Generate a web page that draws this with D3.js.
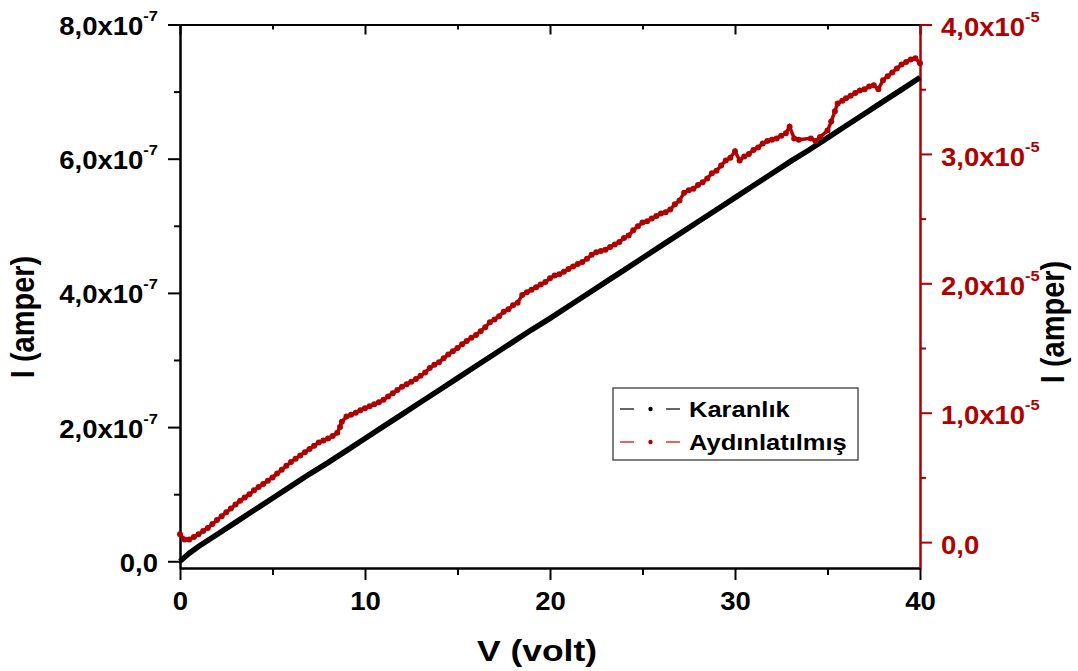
<!DOCTYPE html>
<html>
<head>
<meta charset="utf-8">
<script src="https://cdn.jsdelivr.net/npm/d3@7"></script>
<style>
  body { margin: 0; background: #fff; }
  text { font-family: "Liberation Sans", Arial, sans-serif; font-weight: bold; }
</style>
</head>
<body>
<div id="chart"></div>
<script>
// dark current, [V, I in 1e-7 A]
var darkData = [
  [0, 0.00], [0.25, 0.06], [0.5, 0.12], [1, 0.22], [2, 0.40], [3, 0.58], [4, 0.76],
  [5, 0.94], [6, 1.12], [7, 1.30], [8, 1.47], [9, 1.65], [10, 1.83], [11, 2.01],
  [12, 2.19], [13, 2.37], [14, 2.55], [15, 2.73], [16, 2.91], [17, 3.09], [18, 3.27],
  [19, 3.45], [20, 3.62], [21, 3.80], [22, 3.98], [23, 4.16], [24, 4.34], [25, 4.52],
  [26, 4.70], [27, 4.88], [28, 5.06], [29, 5.24], [30, 5.42], [31, 5.60], [32, 5.78],
  [33, 5.96], [34, 6.13], [35, 6.31], [36, 6.49], [37, 6.67], [38, 6.85], [39, 7.03],
  [40, 7.21]
];

// illuminated current, [V, I in 1e-5 A]
var lightData = [
  [0, 0.06], [0.25, 0.02], [0.5, 0.02], [0.75, 0.04], [1, 0.06], [1.25, 0.085], [1.5, 0.11],
  [1.75, 0.14], [2, 0.17], [2.25, 0.20], [2.5, 0.23], [2.75, 0.26], [3, 0.29], [3.25, 0.32],
  [3.5, 0.345], [3.75, 0.37], [4, 0.40], [4.25, 0.425], [4.5, 0.45], [4.75, 0.475], [5, 0.50],
  [5.25, 0.53], [5.5, 0.56], [5.75, 0.59], [6, 0.62], [6.25, 0.645], [6.5, 0.67], [6.75, 0.695],
  [7, 0.72], [7.25, 0.745], [7.5, 0.77], [7.75, 0.785], [8, 0.80], [8.25, 0.82], [8.5, 0.845],
  [8.65, 0.89], [8.75, 0.93], [9, 0.97], [9.25, 0.985], [9.5, 1.00], [9.75, 1.02], [10, 1.035],
  [10.25, 1.05], [10.5, 1.065], [10.75, 1.08], [11, 1.10], [11.25, 1.125], [11.5, 1.15],
  [11.75, 1.175], [12, 1.20], [12.25, 1.22], [12.5, 1.24], [12.75, 1.26], [13, 1.285],
  [13.25, 1.31], [13.5, 1.345], [13.75, 1.37], [14, 1.39], [14.25, 1.42], [14.5, 1.45],
  [14.75, 1.475], [15, 1.50], [15.25, 1.53], [15.5, 1.555], [15.75, 1.58], [16, 1.60],
  [16.25, 1.63], [16.5, 1.66], [16.75, 1.70], [17, 1.72], [17.25, 1.745], [17.5, 1.78],
  [17.75, 1.80], [18, 1.83], [18.25, 1.85], [18.5, 1.91], [18.75, 1.93], [19, 1.95],
  [19.25, 1.97], [19.5, 1.99], [19.75, 2.01], [20, 2.04], [20.25, 2.06], [20.5, 2.07],
  [20.75, 2.09], [21, 2.11], [21.25, 2.13], [21.5, 2.15], [21.75, 2.165], [22, 2.19],
  [22.25, 2.22], [22.5, 2.24], [22.75, 2.25], [23, 2.26], [23.25, 2.28], [23.5, 2.30],
  [23.75, 2.32], [24, 2.35], [24.25, 2.37], [24.5, 2.41], [24.75, 2.44], [25, 2.47],
  [25.25, 2.48], [25.5, 2.50], [25.75, 2.52], [26, 2.54], [26.25, 2.55], [26.5, 2.57],
  [26.75, 2.61], [27, 2.64], [27.25, 2.70], [27.5, 2.72], [27.75, 2.73], [28, 2.76],
  [28.25, 2.78], [28.5, 2.81], [28.75, 2.85], [29, 2.87], [29.25, 2.91], [29.5, 2.95],
  [29.75, 2.97], [30, 3.02], [30.25, 2.95], [30.5, 2.98], [30.75, 3.00], [31, 3.03],
  [31.25, 3.05], [31.5, 3.08], [31.75, 3.10], [32, 3.11], [32.25, 3.12], [32.5, 3.14],
  [32.75, 3.16], [32.95, 3.21], [33.2, 3.12], [33.45, 3.11], [34.1, 3.12], [34.35, 3.10],
  [34.6, 3.13], [35, 3.18], [35.2, 3.25], [35.4, 3.33], [35.55, 3.39], [35.8, 3.41],
  [36, 3.43], [36.25, 3.45], [36.5, 3.47], [36.75, 3.49], [37, 3.50], [37.25, 3.52],
  [37.5, 3.53], [37.75, 3.50], [38, 3.57], [38.25, 3.60], [38.5, 3.63], [38.75, 3.66],
  [39, 3.69], [39.25, 3.71], [39.5, 3.73], [39.75, 3.74], [40, 3.70]
];

// ticks and labels
var xMajor = [0, 10, 20, 30, 40];
var xMinor = [5, 15, 25, 35];
var xLabels = ["0", "10", "20", "30", "40"];
var leftMajor = [0, 2, 4, 6, 8];
var leftMinor = [1, 3, 5, 7];
var leftLabels = ["0,0", "2,0x10", "4,0x10", "6,0x10", "8,0x10"];
var leftExp = ["", "-7", "-7", "-7", "-7"];
var rightMajor = [0, 1, 2, 3, 4];
var rightMinor = [0.5, 1.5, 2.5, 3.5];
var rightLabels = ["0,0", "1,0x10", "2,0x10", "3,0x10", "4,0x10"];
var rightExp = ["", "-5", "-5", "-5", "-5"];
var seriesNames = ["Karanlık", "Aydınlatılmış"];

var red = "#b00000";
var stretch = 1.1;

var margin = {top: 24.5, left: 180, right: 158, bottom: 103},
  width = 1078 - margin.left - margin.right,
  height = 671 - margin.top - margin.bottom;

var svg = d3.select("#chart")
  .append("svg")
  .attr("width", 1078)
  .attr("height", 671);

var g = svg.append("g")
  .attr("transform", "translate(" + margin.left + "," + margin.top + ")");

var x = d3.scaleLinear().domain([0, 40]).range([0, width]);
var yL = d3.scaleLinear().domain([-0.1, 8]).range([height, 0]);
var yR = d3.scaleLinear().domain([-0.2, 4]).range([height, 0]);

// replace plain tick text with stretched text + superscript
function styleLabels(axisG, labels, exps) {
  axisG.selectAll(".tick text").each(function(d, i) {
    var t = d3.select(this);
    var tx = +t.attr("x") || 0, ty = +t.attr("y") || 0;
    t.text(null)
      .attr("x", 0).attr("y", 0)
      .attr("transform", "translate(" + tx + "," + ty + ") scale(" + stretch + ",1)");
    t.append("tspan").text(labels[i]);
    if (exps && exps[i]) {
      t.append("tspan").attr("font-size", 15).attr("dy", -14).text(exps[i]);
    }
  });
}

function styleAxis(axisG, col) {
  axisG.attr("font-size", 25).attr("font-family", null);
  axisG.select(".domain").attr("stroke", col).attr("stroke-width", 2);
  axisG.selectAll(".tick line").attr("stroke", col).attr("stroke-width", 2);
  axisG.selectAll(".tick text").attr("fill", col);
}

// minor ticks first
var minors = [
  g.append("g").attr("transform", "translate(0," + height + ")")
    .call(d3.axisBottom(x).tickValues(xMinor).tickSize(7).tickSizeOuter(0).tickFormat("")),
  g.append("g")
    .call(d3.axisTop(x).tickValues(xMinor).tickSize(-5).tickSizeOuter(0).tickFormat("")),
  g.append("g")
    .call(d3.axisLeft(yL).tickValues(leftMinor).tickSize(6).tickSizeOuter(0).tickFormat(""))
];
minors.forEach(function(a) { styleAxis(a, "#000"); });
var rMinor = g.append("g").attr("transform", "translate(" + width + ",0)")
  .call(d3.axisRight(yR).tickValues(rightMinor).tickSize(6).tickSizeOuter(0).tickFormat(""));
styleAxis(rMinor, red);

// major axes
var xAxisG = g.append("g").attr("transform", "translate(0," + height + ")")
  .call(d3.axisBottom(x).tickValues(xMajor).tickSize(12).tickPadding(12).tickSizeOuter(0)
    .tickFormat(function(d, i) { return xLabels[i]; }));
styleAxis(xAxisG, "#000");
styleLabels(xAxisG, xLabels, null);

var topAxisG = g.append("g")
  .call(d3.axisTop(x).tickValues(xMajor).tickSize(-10).tickSizeOuter(0).tickFormat(""));
styleAxis(topAxisG, "#000");

var leftAxisG = g.append("g")
  .call(d3.axisLeft(yL).tickValues(leftMajor).tickSize(12).tickPadding(10).tickSizeOuter(0)
    .tickFormat(function(d, i) { return leftLabels[i]; }));
styleAxis(leftAxisG, "#000");
leftAxisG.selectAll(".tick text").attr("dy", "0.4em");
styleLabels(leftAxisG, leftLabels, leftExp);

var rightAxisG = g.append("g").attr("transform", "translate(" + width + ",0)")
  .call(d3.axisRight(yR).tickValues(rightMajor).tickSize(12).tickPadding(9).tickSizeOuter(0)
    .tickFormat(function(d, i) { return rightLabels[i]; }));
styleAxis(rightAxisG, red);
rightAxisG.selectAll(".tick text").attr("dy", "0.45em");
styleLabels(rightAxisG, rightLabels, rightExp);

// data
var darkLine = d3.line()
  .x(function(d) { return x(d[0]); })
  .y(function(d) { return yL(d[1]); });

var lightLine = d3.line()
  .x(function(d) { return x(d[0]); })
  .y(function(d) { return yR(d[1]); });

g.append("path")
  .datum(darkData)
  .attr("d", darkLine)
  .attr("fill", "none")
  .attr("stroke", "#000")
  .attr("stroke-width", 5.5);

g.append("path")
  .datum(lightData)
  .attr("d", lightLine)
  .attr("fill", "none")
  .attr("stroke", red)
  .attr("stroke-width", 3.5);

g.selectAll(".pt")
  .data(lightData)
  .enter().append("circle")
  .attr("class", "pt")
  .attr("cx", function(d) { return x(d[0]); })
  .attr("cy", function(d) { return yR(d[1]); })
  .attr("r", 3)
  .attr("fill", red);

// axis titles
svg.append("text")
  .attr("transform", "translate(34,317) scale(1.12,1) rotate(-90)")
  .attr("text-anchor", "middle")
  .attr("font-size", 29)
  .text("I (amper)");

svg.append("text")
  .attr("transform", "translate(1064,322) scale(1.12,1) rotate(-90)")
  .attr("text-anchor", "middle")
  .attr("font-size", 29)
  .text("I (amper)");

svg.append("text")
  .attr("transform", "translate(537,661) scale(1.18,1)")
  .attr("text-anchor", "middle")
  .attr("font-size", 30)
  .text("V (volt)");

// legend
var legend = svg.append("g");
legend.append("rect")
  .attr("x", 613).attr("y", 388)
  .attr("width", 245).attr("height", 72)
  .attr("fill", "#fff")
  .attr("stroke", "#555")
  .attr("stroke-width", 1.5);

var legCols = [{line: "#333", dot: "#000"}, {line: "#e03030", dot: red}];
var legY = [409, 442];
seriesNames.forEach(function(name, i) {
  var y0 = legY[i];
  legend.append("line").attr("x1", 620).attr("x2", 634).attr("y1", y0).attr("y2", y0)
    .attr("stroke", legCols[i].line).attr("stroke-width", 1.5);
  legend.append("line").attr("x1", 666).attr("x2", 680).attr("y1", y0).attr("y2", y0)
    .attr("stroke", legCols[i].line).attr("stroke-width", 1.5);
  legend.append("circle").attr("cx", 650.5).attr("cy", y0).attr("r", 2.2)
    .attr("fill", legCols[i].dot);
  legend.append("text")
    .attr("transform", "translate(689," + (y0 + 8) + ") scale(1.16,1)")
    .attr("font-size", 22)
    .text(name);
});
</script>
</body>
</html>
